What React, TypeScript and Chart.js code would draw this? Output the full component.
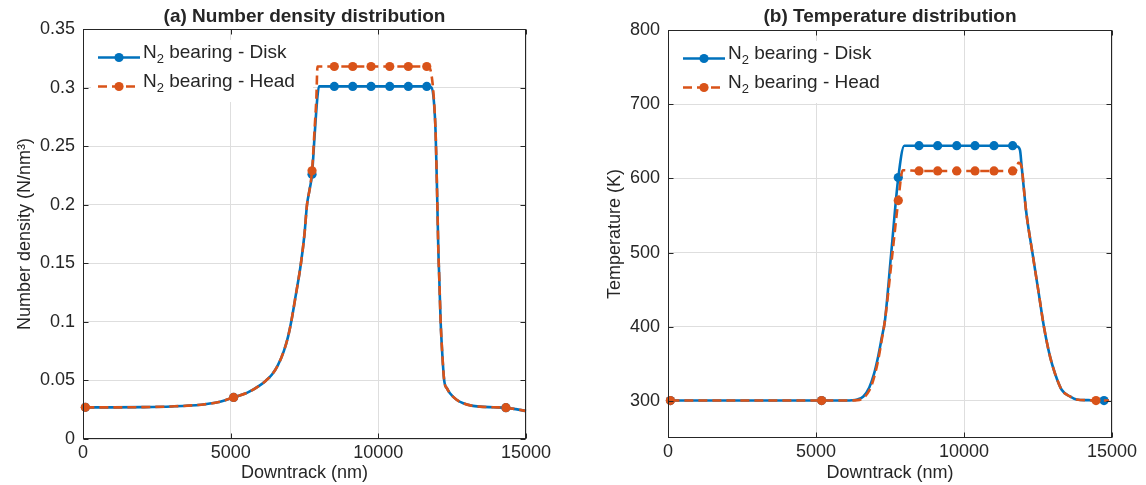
import { useEffect, useRef } from "react";
import { Chart, registerables } from "chart.js";

Chart.register(...registerables);

const BLUE = "#0072BD";
const ORANGE = "#D95319";
const AXIS = "#262626";
const GRID = "#dedede";
const FONT = "'Liberation Sans', Arial, Helvetica, sans-serif";

// ---- (a) number density (N/nm^3) along the downtrack direction ----
const densDiskX = [80, 1000, 2000, 3000, 4000, 4600, 5100, 5600, 6000, 6200, 6400, 6600, 6800, 6950, 7050, 7200, 7380, 7500, 7585, 7680, 7755, 7850, 7930, 7990, 8510, 9133, 9753, 10386, 11016, 11640, 11800, 11885, 11940, 11990, 12032, 12065, 12110, 12160, 12230, 12330, 12425, 12650, 12875, 13150, 13440, 13900, 14320, 14650, 15000];
const densDiskY = [0.027, 0.027, 0.0272, 0.0278, 0.0293, 0.0315, 0.0355, 0.04, 0.046, 0.05, 0.055, 0.063, 0.075, 0.088, 0.1, 0.122, 0.15, 0.175, 0.2, 0.214, 0.226, 0.262, 0.29, 0.301, 0.301, 0.301, 0.301, 0.301, 0.301, 0.301, 0.3, 0.287, 0.261, 0.21, 0.161, 0.136, 0.1, 0.075, 0.05, 0.043, 0.039, 0.0335, 0.0305, 0.0285, 0.0276, 0.0271, 0.0267, 0.0255, 0.0239];
const densDiskMarks = [0, 6, 20, 24, 25, 26, 27, 28, 29, 46];

const densHeadX = [80, 1000, 2000, 3000, 4000, 4600, 5100, 5600, 6000, 6200, 6400, 6600, 6800, 6950, 7050, 7200, 7380, 7500, 7585, 7680, 7755, 7850, 7900, 7940, 8510, 9133, 9753, 10386, 11016, 11640, 11700, 11805, 11885, 11940, 11990, 12032, 12065, 12110, 12160, 12230, 12330, 12425, 12650, 12875, 13150, 13440, 13900, 14320, 14650, 15000];
const densHeadY = [0.027, 0.027, 0.0272, 0.0278, 0.0293, 0.0315, 0.0355, 0.04, 0.046, 0.05, 0.055, 0.063, 0.075, 0.088, 0.1, 0.122, 0.15, 0.175, 0.2, 0.214, 0.229, 0.268, 0.29, 0.318, 0.318, 0.318, 0.318, 0.318, 0.318, 0.318, 0.318, 0.31, 0.289, 0.261, 0.21, 0.161, 0.136, 0.1, 0.075, 0.05, 0.043, 0.039, 0.0335, 0.0305, 0.0285, 0.0276, 0.0271, 0.0267, 0.0255, 0.0239];
const densHeadMarks = [0, 6, 20, 24, 25, 26, 27, 28, 29, 47];

// ---- (b) temperature (K) along the downtrack direction ----
const tempDiskX = [80, 1000, 2000, 3000, 4000, 5190, 6000, 6400, 6600, 6800, 6950, 7100, 7220, 7331, 7543, 7780, 7983, 8480, 9110, 9755, 10372, 11014, 11644, 11790, 11892, 11950, 12030, 12095, 12318, 12510, 12700, 12905, 13074, 13300, 13580, 13800, 14200, 14730, 14900];
const tempDiskY = [300.5, 300.5, 300.5, 300.5, 300.5, 300.5, 300.5, 302, 306, 318, 335, 360, 385, 409, 500, 601, 644, 644, 644, 644, 644, 644, 644, 643, 638, 615, 583, 557, 498, 449, 400, 360, 337, 315, 306, 302, 301, 300.5, 300.5];
const tempDiskMarks = [0, 5, 15, 17, 18, 19, 20, 21, 22, 37];

const tempHeadX = [80, 1000, 2000, 3000, 4000, 5190, 6000, 6400, 6600, 6800, 6950, 7100, 7220, 7331, 7585, 7780, 7930, 8480, 9110, 9755, 10372, 11014, 11644, 11760, 11840, 11950, 12030, 12095, 12318, 12510, 12700, 12905, 13074, 13300, 13580, 13800, 14200, 14460, 14900];
const tempHeadY = [300.5, 300.5, 300.5, 300.5, 300.5, 300.5, 300.5, 301, 304, 314, 330, 355, 382, 409, 500, 570, 611, 610, 610, 610, 610, 610, 610, 611, 621, 615, 583, 557, 498, 449, 400, 360, 337, 315, 306, 302, 301, 300.5, 300.5];
const tempHeadMarks = [0, 5, 15, 17, 18, 19, 20, 21, 22, 37];

// ---- axes ----
const downtrackTicks = [0, 5000, 10000, 15000];
const densityTicks = [0, 0.05, 0.1, 0.15, 0.2, 0.25, 0.3, 0.35];
const temperatureTicks = [300, 400, 500, 600, 700, 800];

const seriesNames = [
  { base: "N", sub: "2", rest: " bearing - Disk" },
  { base: "N", sub: "2", rest: " bearing - Head" },
];

type Series = { x: number[]; y: number[]; marks: number[]; color: string; dash: number[] };
type Panel = {
  title: string;
  yTitle: string;
  yTitlePad: number;
  yMin: number;
  yMax: number;
  yTicks: number[];
  series: Series[];
  yAxisWidth: number;
  padRight: number;
  padTop: number;
  xAxisHeight: number;
};

const panels: Panel[] = [
  {
    title: "(a) Number density distribution",
    yTitle: "Number density (N/nm\u00B3)",
    yTitlePad: 14,
    yMin: 0,
    yMax: 0.35,
    yTicks: densityTicks,
    series: [
      { x: densDiskX, y: densDiskY, marks: densDiskMarks, color: BLUE, dash: [] },
      { x: densHeadX, y: densHeadY, marks: densHeadMarks, color: ORANGE, dash: [9, 5] },
    ],
    yAxisWidth: 83,
    padRight: 47,
    padTop: 29,
    xAxisHeight: 46,
  },
  {
    title: "(b) Temperature distribution",
    yTitle: "Temperature (K)",
    yTitlePad: 31,
    yMin: 250,
    yMax: 800,
    yTicks: temperatureTicks,
    series: [
      { x: tempDiskX, y: tempDiskY, marks: tempDiskMarks, color: BLUE, dash: [] },
      { x: tempHeadX, y: tempHeadY, marks: tempHeadMarks, color: ORANGE, dash: [9, 5] },
    ],
    yAxisWidth: 95,
    padRight: 34,
    padTop: 30,
    xAxisHeight: 47,
  },
];

const fmt = (v: number) => String(parseFloat(v.toFixed(2)));

// Title, boxed axes with inward ticks, and a line+marker legend
const decorPlugin = {
  id: "decor",
  afterDraw(chart: any, _args: any, opts: any) {
    const { ctx, chartArea: a, scales } = chart;
    ctx.save();

    // title
    ctx.fillStyle = AXIS;
    ctx.font = `bold 19px ${FONT}`;
    ctx.textAlign = "center";
    ctx.textBaseline = "alphabetic";
    ctx.fillText(opts.title, (a.left + a.right) / 2, 22);

    // box
    const L = Math.round(a.left) + 0.5;
    const R = Math.round(a.right) - 0.5;
    const T = Math.round(a.top) + 0.5;
    const B = Math.round(a.bottom) - 0.5;
    ctx.strokeStyle = AXIS;
    ctx.lineWidth = 1;
    ctx.setLineDash([]);
    ctx.strokeRect(L, T, R - L, B - T);

    // inward ticks on all four sides
    const tl = 5;
    ctx.beginPath();
    scales.x.ticks.forEach((t: any) => {
      const px = Math.round(scales.x.getPixelForValue(t.value)) + 0.5;
      ctx.moveTo(px, B);
      ctx.lineTo(px, B - tl);
      ctx.moveTo(px, T);
      ctx.lineTo(px, T + tl);
    });
    scales.y.ticks.forEach((t: any) => {
      const py = Math.round(scales.y.getPixelForValue(t.value)) + 0.5;
      ctx.moveTo(L, py);
      ctx.lineTo(L + tl, py);
      ctx.moveTo(R, py);
      ctx.lineTo(R - tl, py);
    });
    ctx.stroke();

    // legend
    const lx = a.left + 15;
    ctx.fillStyle = "#ffffff";
    ctx.fillRect(a.left + 8, a.top + 11, 222, 62);
    chart.data.datasets.forEach((ds: any, i: number) => {
      const y = a.top + 28.5 + i * 29;
      ctx.strokeStyle = ds.borderColor;
      ctx.lineWidth = ds.borderWidth;
      ctx.setLineDash(ds.borderDash || []);
      ctx.beginPath();
      ctx.moveTo(lx, y);
      ctx.lineTo(lx + 42, y);
      ctx.stroke();
      ctx.setLineDash([]);
      ctx.fillStyle = ds.borderColor;
      ctx.beginPath();
      ctx.arc(lx + 21, y, 4.6, 0, Math.PI * 2);
      ctx.fill();

      const name = seriesNames[i];
      let tx = lx + 45;
      const base = y + 0.8;
      ctx.fillStyle = AXIS;
      ctx.textAlign = "left";
      ctx.textBaseline = "alphabetic";
      ctx.font = `19px ${FONT}`;
      ctx.fillText(name.base, tx, base);
      tx += ctx.measureText(name.base).width;
      ctx.font = `13px ${FONT}`;
      ctx.fillText(name.sub, tx, base + 5);
      tx += ctx.measureText(name.sub).width;
      ctx.font = `19px ${FONT}`;
      ctx.fillText(name.rest, tx, base);
    });

    ctx.restore();
  },
};

function PanelChart({ panel, left }: { panel: Panel; left: number }) {
  const ref = useRef<HTMLCanvasElement | null>(null);

  useEffect(() => {
    if (!ref.current) return;
    const chart = new Chart(ref.current, {
      type: "line",
      data: {
        datasets: panel.series.map((s, i) => ({
          label: seriesNames[i].base + seriesNames[i].sub + seriesNames[i].rest,
          data: s.x.map((x, k) => ({ x, y: s.y[k] })),
          borderColor: s.color,
          backgroundColor: s.color,
          borderWidth: 2.6,
          borderDash: s.dash,
          pointRadius: (c: any) => (s.marks.includes(c.dataIndex) ? 4.6 : 0),
          pointHoverRadius: 0,
          pointBorderWidth: 0,
          pointBackgroundColor: s.color,
          cubicInterpolationMode: "monotone",
          clip: 8,
          order: i === 0 ? 1 : 0,
        })),
      },
      options: {
        animation: false,
        responsive: false,
        events: [],
        layout: { padding: { top: panel.padTop, right: panel.padRight, left: 0, bottom: 0 } },
        plugins: {
          legend: { display: false },
          tooltip: { enabled: false },
          title: { display: false },
          decor: { title: panel.title },
        } as any,
        scales: {
          x: {
            type: "linear",
            min: 0,
            max: 15000,
            afterBuildTicks: (sc: any) => {
              sc.ticks = downtrackTicks.map((v) => ({ value: v }));
            },
            afterFit: (sc: any) => {
              sc.height = panel.xAxisHeight;
            },
            ticks: {
              font: { family: FONT, size: 18 },
              color: AXIS,
              padding: 3,
              maxRotation: 0,
              autoSkip: false,
              callback: (v: any) => String(v),
            },
            grid: { color: GRID, lineWidth: 1, drawTicks: false, tickLength: 0 },
            border: { display: false },
            title: {
              display: true,
              text: "Downtrack (nm)",
              font: { family: FONT, size: 18 },
              color: AXIS,
              padding: { top: 0, bottom: 1 },
            },
          },
          y: {
            type: "linear",
            min: panel.yMin,
            max: panel.yMax,
            afterBuildTicks: (sc: any) => {
              sc.ticks = panel.yTicks.map((v) => ({ value: v }));
            },
            afterFit: (sc: any) => {
              sc.width = panel.yAxisWidth;
            },
            ticks: {
              font: { family: FONT, size: 18 },
              color: AXIS,
              padding: 8,
              autoSkip: false,
              callback: (v: any) => fmt(Number(v)),
            },
            grid: { color: GRID, lineWidth: 1, drawTicks: false, tickLength: 0 },
            border: { display: false },
            title: {
              display: true,
              text: panel.yTitle,
              font: { family: FONT, size: 18 },
              color: AXIS,
              padding: { top: panel.yTitlePad, bottom: 0 },
            },
          },
        },
      } as any,
      plugins: [decorPlugin],
    });
    return () => chart.destroy();
  }, [panel]);

  return (
    <canvas
      ref={ref}
      width={573}
      height={485}
      style={{ position: "absolute", left, top: 0, width: 573, height: 485, display: "block" }}
    />
  );
}

export default function App() {
  return (
    <div style={{ position: "fixed", left: 0, top: 0, width: 1146, height: 485, background: "#ffffff" }}>
      <PanelChart panel={panels[0]} left={0} />
      <PanelChart panel={panels[1]} left={573} />
    </div>
  );
}
